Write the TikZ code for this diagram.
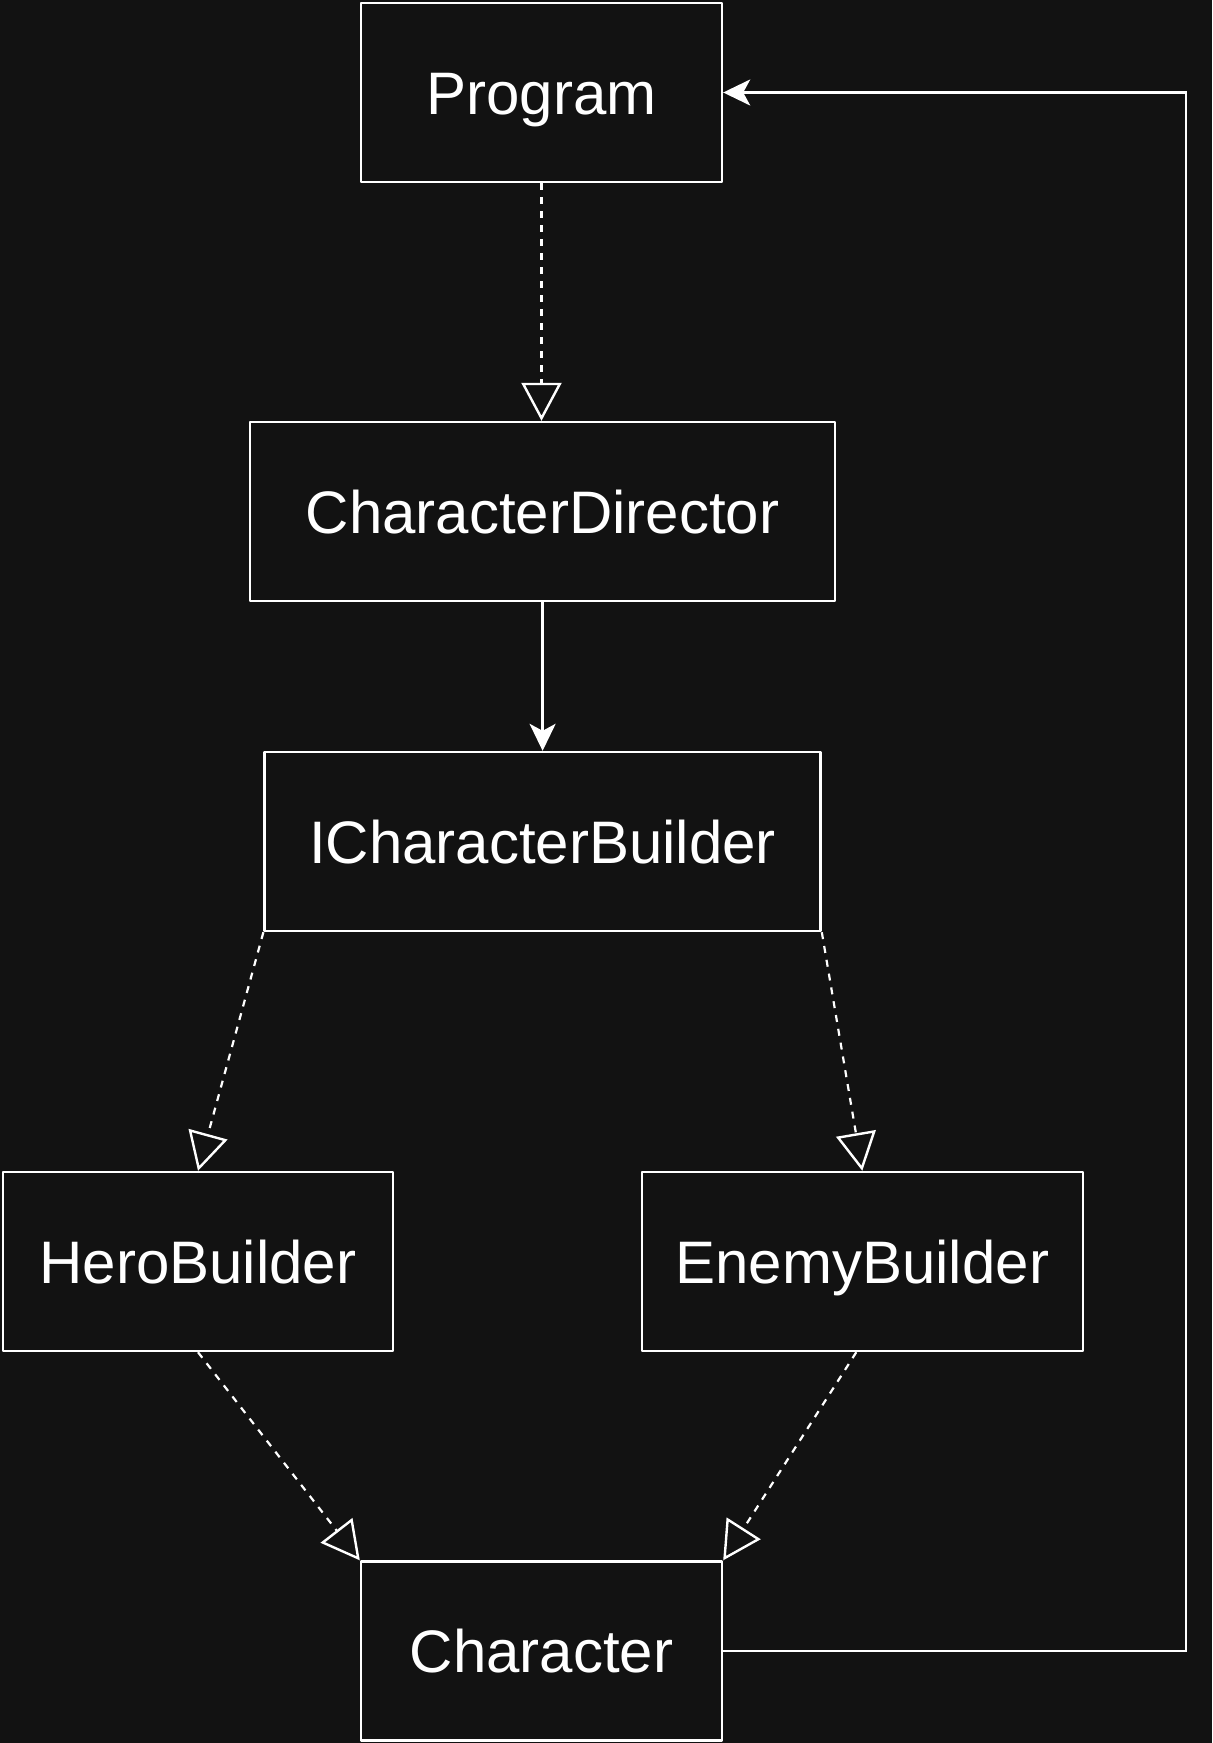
\documentclass[tikz,border=0pt]{standalone}
\usepackage{fontspec}
\setmainfont{Liberation Sans}
\usetikzlibrary{arrows.meta}
\definecolor{bgcol}{HTML}{121212}
\tikzset{
  classbox/.style={draw=white,line width=2.4bp,text=white,inner sep=0pt,
    minimum height=179bp,text height=43bp,text depth=0pt,
    font=\fontsize{60bp}{62bp}\selectfont},
  realize/.style={draw=white,line width=2.2bp,dash pattern=on 7bp off 7bp,
    -{Triangle[open,length=38bp,width=40bp,line width=2.4bp]}},
  assoc/.style={draw=white,line width=2.4bp,-{Stealth[length=27bp,width=26bp,inset=7bp]}},
  link/.style={draw=white,line width=2.4bp,line join=miter}
}
\begin{document}
\begin{tikzpicture}[>=latex,line join=bevel,x=1bp,y=-1bp]
  \fill[bgcol] (0,0) rectangle (1212,1743);
  \useasboundingbox (0,0) rectangle (1212,1743);
%%
  % Node: Program
  \node[classbox,minimum width=361bp] (Program) at (541.5,92.5) {Program};
  % Node: CharacterDirector
  \node[classbox,minimum width=585bp] (CharacterDirector) at (542.6,511.5) {CharacterDirector};
  % Node: ICharacterBuilder
  \node[classbox,minimum width=556bp] (ICharacterBuilder) at (542.6,841.5) {ICharacterBuilder};
  % Node: HeroBuilder
  \node[classbox,minimum width=390bp] (HeroBuilder) at (198,1261.5) {HeroBuilder};
  % Node: EnemyBuilder
  \node[classbox,minimum width=441bp] (EnemyBuilder) at (862.3,1261.5) {EnemyBuilder};
  % Node: Character
  \node[classbox,minimum width=361bp] (Character) at (541.5,1651) {Character};
  \coordinate (turn) at (1186,92.5);
%
  % Edge: Program -> CharacterDirector
  \draw[realize] (Program.south) -- (Program.south |- CharacterDirector.north);
  % Edge: CharacterDirector -> ICharacterBuilder
  \draw[assoc] (CharacterDirector.south) -- (ICharacterBuilder.north);
  % Edge: ICharacterBuilder -> HeroBuilder
  \draw[realize] (ICharacterBuilder.south west) -- (HeroBuilder.north);
  % Edge: ICharacterBuilder -> EnemyBuilder
  \draw[realize] (ICharacterBuilder.south east) -- (EnemyBuilder.north);
  % Edge: HeroBuilder -> Character
  \draw[realize] (HeroBuilder.south) -- (Character.north west);
  % Edge: EnemyBuilder -> Character
  \draw[realize] ([xshift=-6bp]EnemyBuilder.south) -- (Character.north east);
  % Edge: Character -> Program
  \draw[link,-{Stealth[length=27bp,width=26bp,inset=7bp]}] (Character.east) -| (turn) -- (Program.east);
%
\end{tikzpicture}
\end{document}
